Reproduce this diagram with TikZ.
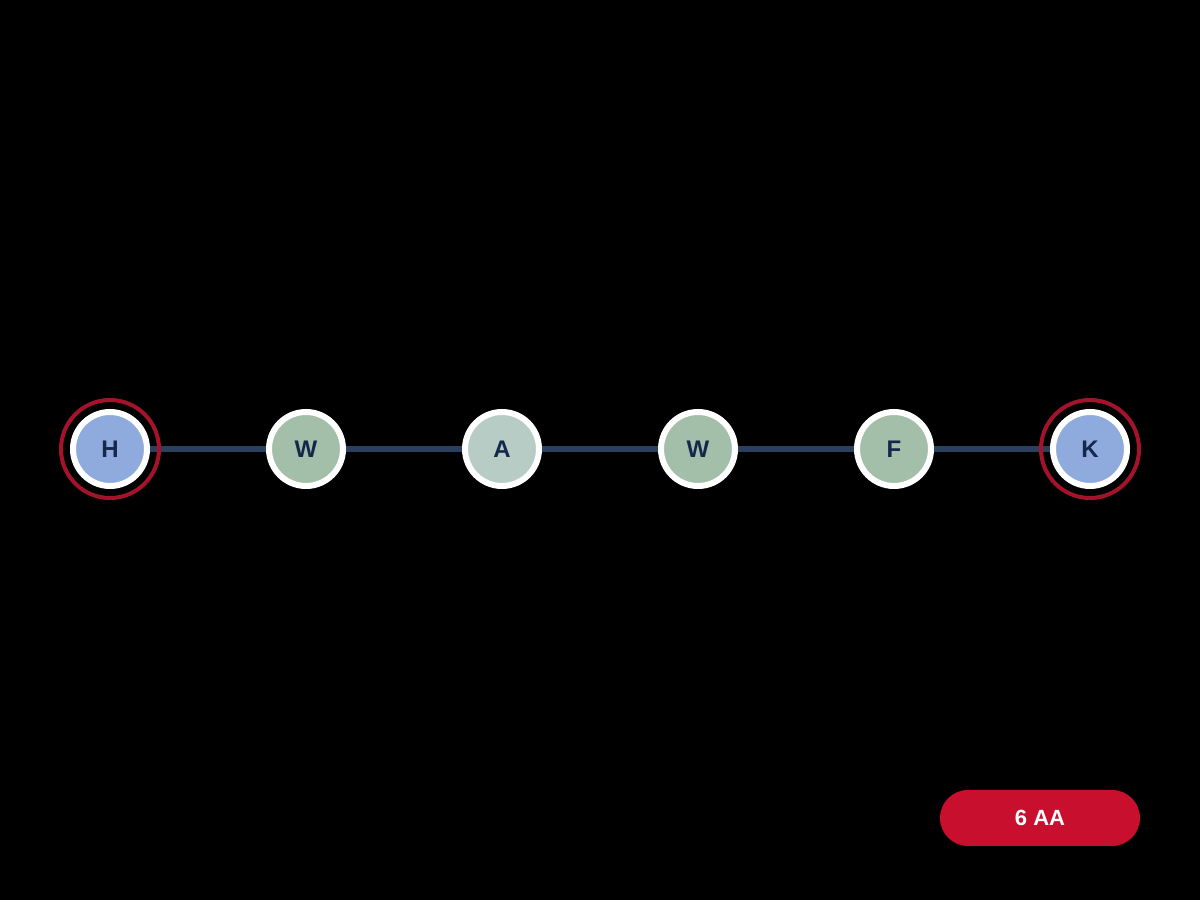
\documentclass[tikz,border=0pt]{standalone}
\usepackage{fontspec}
\setmainfont{Liberation Sans}
\usetikzlibrary{positioning}

\definecolor{navytext}{HTML}{13284A}
\definecolor{railblue}{HTML}{2B3F5E}
\definecolor{endblue}{HTML}{8FAADC}
\definecolor{midgreen}{HTML}{A3BFA9}
\definecolor{palegreen}{HTML}{B8CCC6}
\definecolor{ringred}{HTML}{A3142C}
\definecolor{badgered}{HTML}{C8102E}

\begin{document}
\begin{tikzpicture}[x=1pt,y=1pt]
    \tikzstyle{every node}=[font=\bfseries\fontsize{24}{24}\selectfont,
                            text=navytext]
    \tikzstyle{stop}=[draw=white,circle,line width=6pt,minimum size=74pt,
                      inner sep=0pt]
    \tikzstyle{endring}=[draw=ringred,circle,line width=4pt,
                         minimum size=98pt,inner sep=0pt]

      \fill[black] (0,0) rectangle (1200,900);

      \node (h) [stop,fill=endblue] at (110,451) {H};
      \node (w1) [stop,fill=midgreen,right=116pt of h] {W};
      \node (a) [stop,fill=palegreen,right=116pt of w1] {A};
      \node (w2) [stop,fill=midgreen,right=116pt of a] {W};
      \node (f) [stop,fill=midgreen,right=116pt of w2] {F};
      \node (k) [stop,fill=endblue,right=116pt of f] {K};

      \draw[railblue,line width=6pt] (h) -- (w1) (w1) -- (a) (a) -- (w2)
        (w2) -- (f) (f) -- (k);

      \node (hring) [endring] at (h) {};
      \node (kring) [endring] at (k) {};

      \node (badge) [fill=badgered,text=white,rounded corners=28pt,
                     minimum width=200pt,minimum height=56pt,
                     font=\bfseries\fontsize{22}{22}\selectfont]
        at (1040,82) {6 AA};
    \end{tikzpicture}
\end{document}
